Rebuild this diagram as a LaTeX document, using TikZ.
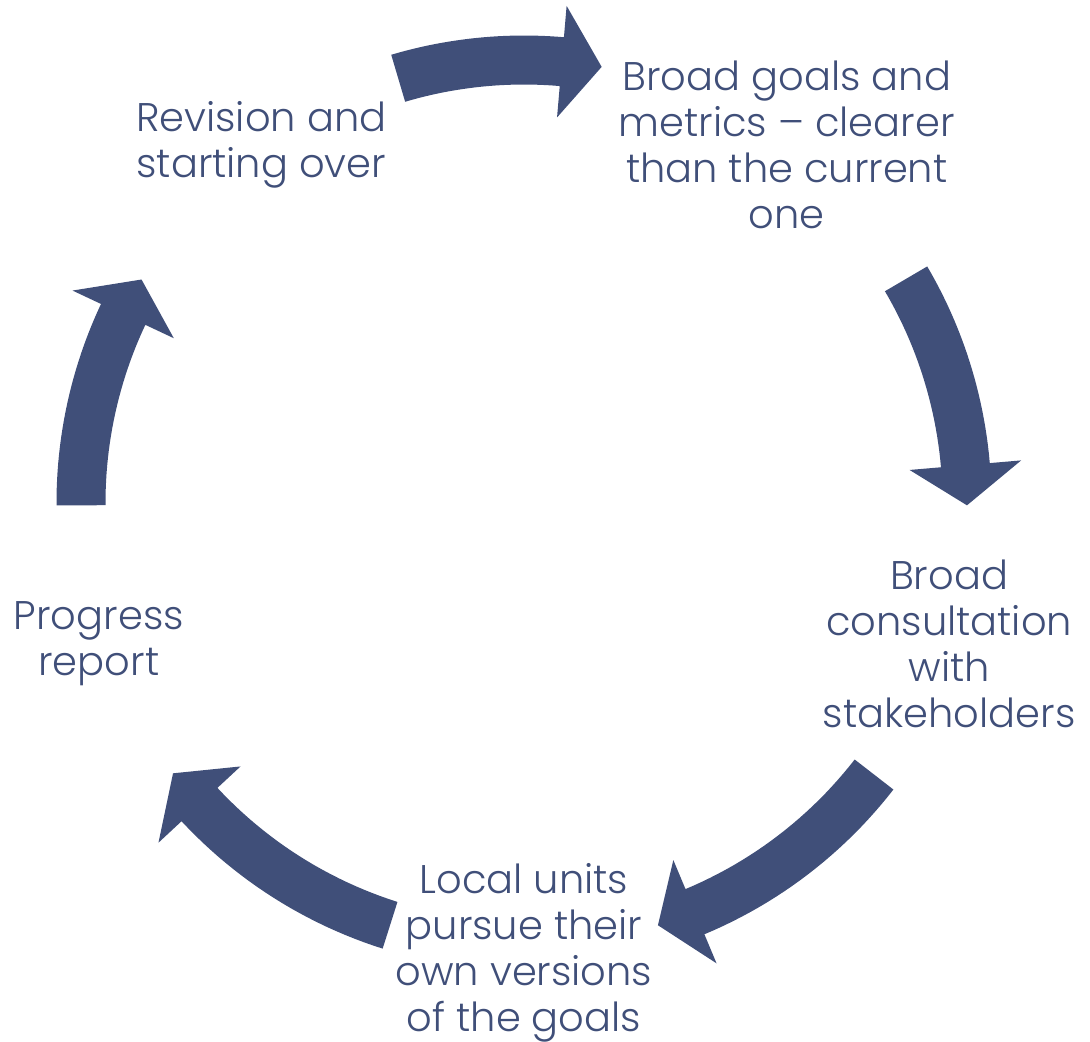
\documentclass[tikz,border=0pt]{standalone}
\usepackage{fontspec}
\setmainfont{Poppins}[UprightFont = * Light]
\definecolor{cyclecol}{RGB}{64,79,121}
\begin{document}
\begin{tikzpicture}[x = 0.5pt, y = 0.5pt,
        stage/.style = {align = center, text = cyclecol, inner sep = 0pt, yshift = -1.5pt, font = \fontsize{20}{23}\selectfont},
        blockarrow/.style = {fill = cyclecol}]
        \useasboundingbox (-524, -538) rectangle (566, 503);
        \node [stage] (goals) at (54:447) {Broad goals and\\metrics – clearer\\than the current\\one};
        \node [stage] (consult) at (-18:447) {Broad\\consultation\\with\\stakeholders};
        \node [stage] (local) at (-90:447) {Local units\\pursue their\\own versions\\of the goals};
        \node [stage] (progress) at (198:447) {Progress\\report};
        \node [stage] (revision) at (126:447) {Revision and\\starting over};
        \fill [blockarrow] plot [domain=106.5:85.1, variable = \t] (\t:418.5) -- (85.1:387) -- (79.9:443) -- (85.1:499) -- plot [domain=85.1:106.5, variable = \t] (\t:467.5) -- cycle;
        \fill [blockarrow] plot [domain=30.4:4.9, variable = \t] (\t:418.5) -- (4.9:387) -- (-0.3:443) -- (4.9:499) -- plot [domain=4.9:30.4, variable = \t] (\t:467.5) -- cycle;
        \fill [blockarrow] plot [domain=-37.8:-67.3, variable = \t] (\t:418.5) -- (-67.3:387) -- (-72.4:443) -- (-67.3:499) -- plot [domain=-67.3:-37.8, variable = \t] (\t:467.5) -- cycle;
        \fill [blockarrow] plot [domain=252.4:222.9, variable = \t] (\t:418.5) -- (222.9:387) -- (217.6:443) -- (222.9:499) -- plot [domain=222.9:252.4, variable = \t] (\t:467.5) -- cycle;
        \fill [blockarrow] plot [domain=180.3:154.8, variable = \t] (\t:418.5) -- (154.8:387) -- (149.7:443) -- (154.8:499) -- plot [domain=154.8:180.3, variable = \t] (\t:467.5) -- cycle;
    \end{tikzpicture}
\end{document}
